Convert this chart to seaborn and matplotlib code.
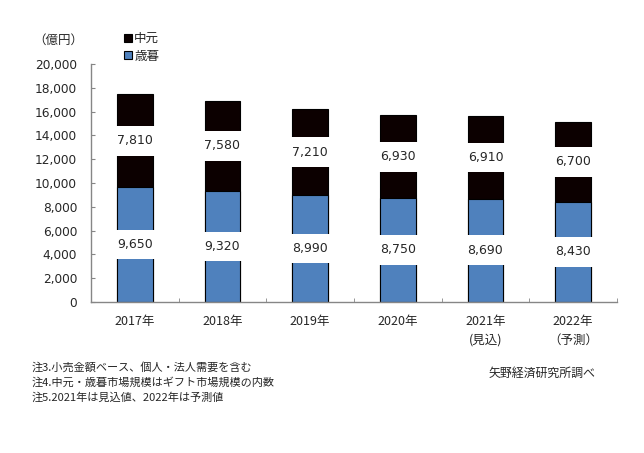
import matplotlib
matplotlib.use("Agg")
import matplotlib.pyplot as plt
import matplotlib.ticker as mticker
import seaborn as sns
import pandas as pd

years = ["2017年", "2018年", "2019年", "2020年", "2021年\n(見込)", "2022年\n（予測）"]
seibo = [9650, 9320, 8990, 8750, 8690, 8430]    # 歳暮
chugen = [7810, 7580, 7210, 6930, 6910, 6700]   # 中元
notes = ["注3.小売金額ベース、個人・法人需要を含む",
         "注4.中元・歳暮市場規模はギフト市場規模の内数",
         "注5.2021年は見込値、2022年は予測値"]

df = pd.DataFrame({"year": years, "歳暮": seibo, "中元": chugen})
df["total"] = df["歳暮"] + df["中元"]

sns.set_style("white")
plt.rcParams["font.family"] = ["DejaVu Sans", "Noto Sans CJK JP"]
cjk = ["Noto Sans CJK JP", "DejaVu Sans"]

fig = plt.figure(figsize=(6.44, 4.53), dpi=100)
ax = fig.add_axes([91 / 644, 1 - 302 / 453, (617 - 91) / 644, (302 - 64) / 453])

# stacked: draw totals in black, then 歳暮 over it
sns.barplot(data=df, x="year", y="total", color="#0c0000", saturation=1,
            width=0.41, edgecolor="black", linewidth=0.8, label="中元", ax=ax)
sns.barplot(data=df, x="year", y="歳暮", color="#4f81bd", saturation=1,
            width=0.41, edgecolor="black", linewidth=0.8, label="歳暮", ax=ax)

box = dict(facecolor="white", edgecolor="none", pad=6)
for i in range(len(df)):
    s, c = df["歳暮"][i], df["中元"][i]
    ax.text(i, s / 2, f"{s:,}", ha="center", va="center", fontsize=9, bbox=box)
    ax.text(i, s + c / 2, f"{c:,}", ha="center", va="center", fontsize=9, bbox=box)

ax.set_ylim(0, 20000)
ax.set_xlim(-0.5, len(df) - 0.5)
ax.yaxis.set_major_locator(mticker.MultipleLocator(2000))
ax.yaxis.set_major_formatter(mticker.FuncFormatter(lambda v, p: f"{int(v):,}"))
ax.tick_params(axis="y", direction="in", length=3, color="#868686", labelsize=8.7, pad=10, left=True)
ax.set_xticks(range(len(df)))
ax.set_xticklabels(years, fontsize=9, family=cjk, linespacing=1.6)
ax.tick_params(axis="x", length=0, pad=9)
ax.set_xticks([i + 0.5 for i in range(len(df))], minor=True)
ax.tick_params(axis="x", which="minor", direction="in", length=3, color="#868686", bottom=True)
ax.set_xlabel("")
ax.set_ylabel("")

for side in ["top", "right"]:
    ax.spines[side].set_visible(False)
for side in ["left", "bottom"]:
    ax.spines[side].set_color("#868686")
    ax.spines[side].set_linewidth(1)

handles, labels = ax.get_legend_handles_labels()
ax.legend(handles, labels, loc="upper left", bbox_to_anchor=(113 / 644, 1 - 21 / 453),
          bbox_transform=fig.transFigure, frameon=False, handlelength=0.6, handleheight=0.6,
          handletextpad=0.2, labelspacing=0.35, prop={"family": cjk, "size": 9})

fig.text(58 / 644, 1 - 40 / 453, "（億円）", ha="center", va="center", fontsize=9, family=cjk)
for k, line in enumerate(notes):
    fig.text(32 / 644, 1 - (367 + 15.5 * k) / 453, line, ha="left", va="center",
             fontsize=8.0, family=cjk)
fig.text(595 / 644, 1 - 373 / 453, "矢野経済研究所調べ", ha="right", va="center",
         fontsize=8.6, family=cjk)

fig.savefig("out.png", dpi=100)
